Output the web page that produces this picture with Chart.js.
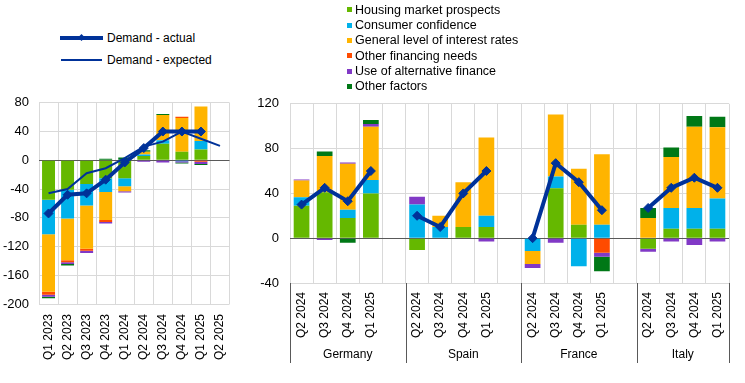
<!DOCTYPE html>
<html><head><meta charset="utf-8">
<script src="https://cdn.jsdelivr.net/npm/chart.js@4.4.1/dist/chart.umd.min.js"></script>
<style>
html,body{margin:0;padding:0;background:#fff;}
#wrap{position:relative;width:745px;height:383px;overflow:hidden;font-family:"Liberation Sans",Arial,sans-serif;color:#000;}
#c1{position:absolute;left:0;top:85px;}
#c2{position:absolute;left:245px;top:85px;}
.lt{position:absolute;font-size:12px;line-height:14px;white-space:nowrap;}
.lt2{position:absolute;font-size:12.5px;line-height:14px;white-space:nowrap;}
.sq{position:absolute;width:5px;height:5px;}
.ln{position:absolute;background:#003299;}
</style>
</head><body>
<div id="wrap">
  <canvas id="c1" width="245" height="298"></canvas>
  <canvas id="c2" width="500" height="298"></canvas>
  <div id="legend"></div>
</div>
<script>
// ---------- data ----------
const seriesNames = ['Housing market prospects','Consumer confidence','General level of interest rates','Other financing needs','Use of alternative finance','Other factors'];
const seriesColors = ['#65b800','#00b1ea','#ffb400','#ff4b00','#8139c6','#007816'];
const lineColor = '#003299';

// left chart (euro area)
const leftCategories = ['Q1 2023','Q2 2023','Q3 2023','Q4 2023','Q1 2024','Q2 2024','Q3 2024','Q4 2024','Q1 2025','Q2 2025'];
const leftHousing  = [-55, -41, -33, -25, -25, 6, 23, 12, 15, null];
const leftConsumer = [-48, -40, -30, -19, -11, 2, 5, -1.5, 12, null];
const leftRates    = [-80, -58, -60, -39, -7, 4, 35, 47, 48, null];
const leftOtherFin = [-4, -3, -3, -3, 0, 0, 0, 1.5, -2, null];
const leftAltFin   = [-3, -2.5, -3, -2, -2, -2, -3, -1.5, -3, null];
const leftOther    = [-2, -2, 0, 2, 4, 2, 1.5, -1.5, -1.5, null];
const leftActual   = [-74, -48, -46, -27, -3, 17, 40, 40, 40, null];
const leftExpected = [-46, -40, -18, -11, 3, 19, 26, 40, 30, 20];
const leftTicks = {min: -200, max: 80, step: 40};

// right chart (countries)
const groups = ['Germany','Spain','France','Italy'];
const quarters = ['Q2 2024','Q3 2024','Q4 2024','Q1 2025'];
//                 Germany              Spain                 France                Italy
const rHousing  = [29, 41, 18, 40,      -10.5, 0, 10, 10,     0, 44.5, 12, 0,       -9.5, 8.5, 8.5, 8.5];
const rConsumer = [7.5, 0, 7.5, 12,     30, 10, 0, 10,        -11.5, 10.5, -25, 12, 0, 18.5, 18.5, 27];
const rRates    = [15, 32.5, 41, 47.5,  0, 10, 40, 70,        -11.5, 55.5, 50, 63,  18, 45.5, 72.5, 63.5];
const rOtherFin = [0, 0, 0, 0,          0, 0, 0, 0,           0, 0, 0, -13,         0, 0, 0, 0];
const rAltFin   = [1, -1.5, 1, 2.5,     7, 0, 0, -3,          -3.5, -4, 0, -3.5,    -2.5, -3, -6, -3];
const rOther    = [0, 4, -4, 3.5,       0, 0, 0, 0,           0, 0, 0, -13,         9, 8.5, 9.5, 9.5];
const rActual   = [30, 45, 33, 60,      20, 10, 40, 60,       0, 67, 50, 25,        27, 45, 54, 45];
const rightTicks = {min: -40, max: 120, step: 40};

// ---------- helpers ----------
// insert an empty category between country groups
function withGaps(arr){
  const out=[];
  groups.forEach((g,gi)=>{
    for(let q=0;q<quarters.length;q++) out.push(arr[gi*quarters.length+q]);
    if(gi<groups.length-1) out.push(null);
  });
  return out;
}
const rightCategories = withGaps(groups.flatMap(()=>quarters)).map(v=>v===null?'':v);

Chart.defaults.font.family = '"Liberation Sans", Arial, sans-serif';
Chart.defaults.color = '#000';

const gridColor = ctx => (ctx.tick && ctx.tick.value === 0) ? '#595959' : '#d9d9d9';

function barSets(lists){
  return lists.map((d,i)=>({
    type:'bar', label:seriesNames[i], data:d, backgroundColor:seriesColors[i],
    borderWidth:0, stack:'bars', order:2,
    barPercentage:0.68, categoryPercentage:1
  }));
}
function actualSet(d){
  return {type:'line', label:'Demand - actual', data:d, borderColor:lineColor, backgroundColor:lineColor,
    borderWidth:4, pointStyle:'rectRot', pointRadius:4.5, pointBorderWidth:1,
    pointBackgroundColor:lineColor, pointBorderColor:lineColor, stack:'actual', order:0,
    spanGaps:false, tension:0};
}

function makeOptions(ticks, yWidth, xHeight, pad, xPad, yPad){
  return {
    responsive:false, animation:false,
    layout:{padding:pad},
    plugins:{legend:{display:false}, tooltip:{enabled:false}},
    scales:{
      x:{stacked:true, offset:true,
        grid:{color:'#d9d9d9', lineWidth:1, drawTicks:false, offset:true},
        border:{display:false},
        ticks:{autoSkip:false, maxRotation:90, minRotation:90, padding:xPad, font:{size:12}, color:'#000'},
        afterFit(s){ s.height = xHeight; }
      },
      y:{stacked:true, min:ticks.min, max:ticks.max,
        grid:{color:gridColor, lineWidth:1, drawTicks:false},
        border:{display:false},
        ticks:{stepSize:ticks.step, padding:yPad, font:{size:13}, color:'#000'},
        afterFit(s){ s.width = yWidth; }
      }
    }
  };
}

// ---------- left chart ----------
new Chart(document.getElementById('c1'), {
  data:{
    labels:leftCategories,
    datasets:[
      ...barSets([leftHousing,leftConsumer,leftRates,leftOtherFin,leftAltFin,leftOther]),
      actualSet(leftActual),
      {type:'line', label:'Demand - expected', data:leftExpected, borderColor:lineColor,
        borderWidth:2, pointRadius:0, stack:'expected', order:1, tension:0}
    ]
  },
  options:makeOptions(leftTicks, 39, 79, {top:17,left:0,right:12,bottom:0}, 10, 10)
});

// ---------- right chart ----------
const groupPlugin = {
  id:'groupLabels',
  afterDraw(chart){
    const {ctx, chartArea, scales:{x}} = chart;
    const w = x.getPixelForValue(1) - x.getPixelForValue(0);
    ctx.save();
    ctx.strokeStyle = '#595959'; ctx.lineWidth = 1;
    ctx.fillStyle = '#000';
    ctx.font = '12px "Liberation Sans", Arial, sans-serif';
    ctx.textAlign = 'center'; ctx.textBaseline = 'middle';
    let idx = 0;
    const bottom = chartArea.bottom;
    const drawSep = px => { const xx = Math.round(px)+0.5; ctx.beginPath(); ctx.moveTo(xx, bottom); ctx.lineTo(xx, bottom+80); ctx.stroke(); };
    groups.forEach((g,gi)=>{
      const n = quarters.length + (gi<groups.length-1 ? 1 : 0);
      const left = x.getPixelForValue(idx) - w/2;
      const right = x.getPixelForValue(idx+n-1) + w/2;
      drawSep(left);
      if(gi===groups.length-1) drawSep(right);
      ctx.fillText(g, (left+right)/2, bottom+72);
      idx += n;
    });
    ctx.restore();
  }
};

new Chart(document.getElementById('c2'), {
  data:{
    labels:rightCategories,
    datasets:[
      ...barSets([rHousing,rConsumer,rRates,rOtherFin,rAltFin,rOther].map(withGaps)),
      actualSet(withGaps(rActual))
    ]
  },
  options:makeOptions(rightTicks, 45, 100, {top:14,left:0,right:16,bottom:0}, 9, 11),
  plugins:[groupPlugin]
});

// ---------- legends (HTML text) ----------
const lg = document.getElementById('legend');
function add(html){ lg.insertAdjacentHTML('beforeend', html); }
add('<div class="ln" style="left:60px;top:36px;width:43px;height:4px;"></div>');
add('<div class="ln" style="left:79px;top:35px;width:5px;height:5px;transform:rotate(45deg);"></div>');
add('<div class="lt" style="left:107px;top:31px;">Demand - actual</div>');
add('<div class="ln" style="left:61px;top:59px;width:41px;height:2px;"></div>');
add('<div class="lt" style="left:107px;top:53px;">Demand - expected</div>');
const legendY = [9.8, 25.2, 40.5, 55.8, 71.2, 86.5];
seriesNames.forEach((n,i)=>{
  add(`<div class="sq" style="left:347px;top:${legendY[i]-2.5}px;background:${seriesColors[i]};"></div>`);
  add(`<div class="lt2" style="left:355px;top:${legendY[i]-7.3}px;">${n}</div>`);
});
</script>
</body></html>
